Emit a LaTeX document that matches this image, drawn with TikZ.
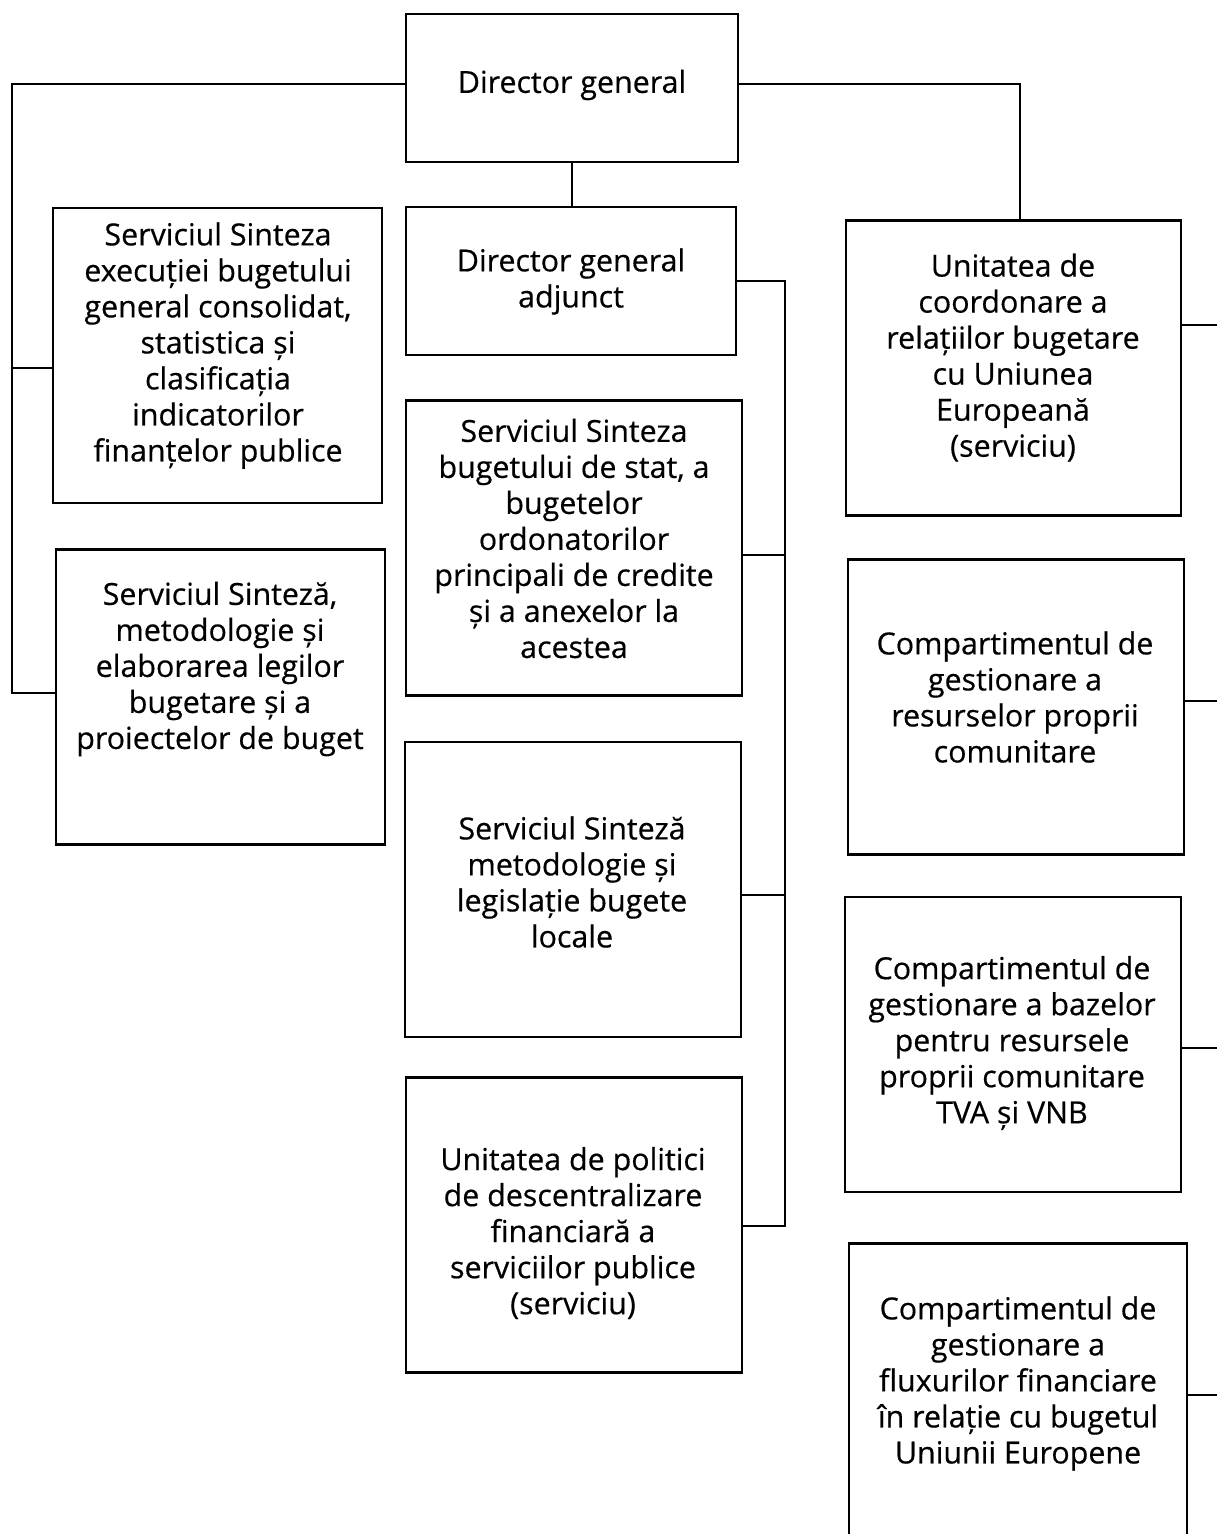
\documentclass[tikz,border=0pt]{standalone}
\usepackage{fontspec}
\setmainfont{Open Sans}[FakeBold=0.5]
\begin{document}
\begin{tikzpicture}[
        x=0.02cm, y=-0.02cm,
        font=\fontsize{17.3}{20.5}\selectfont
    ]
    \tikzset{
        box/.style = {rectangle, draw=black, line width=1.2pt, minimum width=6.7cm, minimum height=5.9cm, inner sep=0pt},
        boxs/.style = {box, minimum height=2.96cm},
        txt/.style = {align=center, inner sep=0pt},
        conn/.style = {-, line width=1pt},
    }
    \useasboundingbox (0,0) rectangle (1217,1534);
    \clip (0,0) rectangle (1217,1534);
    % boxes
    \node[boxs, minimum width=6.64cm] at (572,88) (dg) {};
    \node[boxs, minimum width=6.6cm] at (571,281) (dga) {};
    \node[box, minimum width=6.58cm] at (217.5,355.5) (b1) {};
    \node[box, minimum width=6.58cm] at (220.5,697) (b2) {};
    \node[box, minimum width=6.72cm] at (574,548) (m1) {};
    \node[box, minimum width=6.72cm] at (573,889.5) (m2) {};
    \node[box, minimum width=6.72cm] at (574,1225) (m3) {};
    \node[box, minimum width=6.7cm] at (1013.5,368) (r1) {};
    \node[box, minimum width=6.72cm] at (1016,707) (r2) {};
    \node[box, minimum width=6.72cm] at (1013,1044.5) (r3) {};
    \node[box, minimum width=6.76cm] at (1018,1391) (r4) {};
    % texts
    \node[txt] at (572,85) (dgt) {Director general};
    \node[txt] at (571,281.5) (dgat) {Director general\\adjunct};
    \node[txt] at (218,345.5) (b1t) {Serviciul Sinteza\\execuției bugetului\\general consolidat,\\statistica și\\clasificația\\indicatorilor\\finanțelor publice};
    \node[txt] at (220,669) (b2t) {Serviciul Sinteză,\\metodologie și\\elaborarea legilor\\bugetare și a\\proiectelor de buget};
    \node[txt] at (574,538.5) (m1t) {Serviciul Sinteza\\bugetului de stat, a\\bugetelor\\ordonatorilor\\principali de credite\\și a anexelor la\\acestea};
    \node[txt] at (572,882) (m2t) {Serviciul Sinteză\\metodologie și\\legislație bugete\\locale};
    \node[txt] at (573,1233) (m3t) {Unitatea de politici\\de descentralizare\\financiară a\\serviciilor publice\\(serviciu)};
    \node[txt] at (1013,357.5) (r1t) {Unitatea de\\coordonare a\\relațiilor bugetare\\cu Uniunea\\Europeană\\(serviciu)};
    \node[txt] at (1015,697) (r2t) {Compartimentul de\\gestionare a\\resurselor proprii\\comunitare};
    \node[txt] at (1012,1043) (r3t) {Compartimentul de\\gestionare a bazelor\\pentru resursele\\proprii comunitare\\TVA și VNB};
    \node[txt] at (1018,1383.5) (r4t) {Compartimentul de\\gestionare a\\fluxurilor financiare\\în relație cu bugetul\\Uniunii Europene};
    %
    \coordinate (l0) at (12,84);
    \coordinate (l1) at (12,368);
    \coordinate (l2) at (12,693);
    \coordinate (k0) at (785,281);
    \coordinate (k1) at (785,555);
    \coordinate (k2) at (785,895);
    \coordinate (k3) at (785,1226);
    \coordinate (q0) at (1020,84);
    \coordinate (e1) at (1217,325);
    \coordinate (e2) at (1217,701);
    \coordinate (e3) at (1217,1048);
    \coordinate (e4) at (1217,1395);
    %
    \draw[conn] (dg.south) -- (dg.south |- dga.north);
    \draw[conn] (dg.west |- l0) -- (l0) -- (l2) -- (b2.west |- l2);
    \draw[conn] (l1) -- (b1.west |- l1);
    \draw[conn] (dga.east) -- (k0) -- (k3) -- (m3.east |- k3);
    \draw[conn] (k1) -- (m1.east |- k1);
    \draw[conn] (k2) -- (m2.east |- k2);
    \draw[conn] (dg.east |- q0) -- (q0) -- (q0 |- r1.north);
    %
    \draw[conn] (r1.east |- e1) -- (e1);
    \draw[conn] (r2.east |- e2) -- (e2);
    \draw[conn] (r3.east |- e3) -- (e3);
    \draw[conn] (r4.east |- e4) -- (e4);
\end{tikzpicture}
\end{document}
